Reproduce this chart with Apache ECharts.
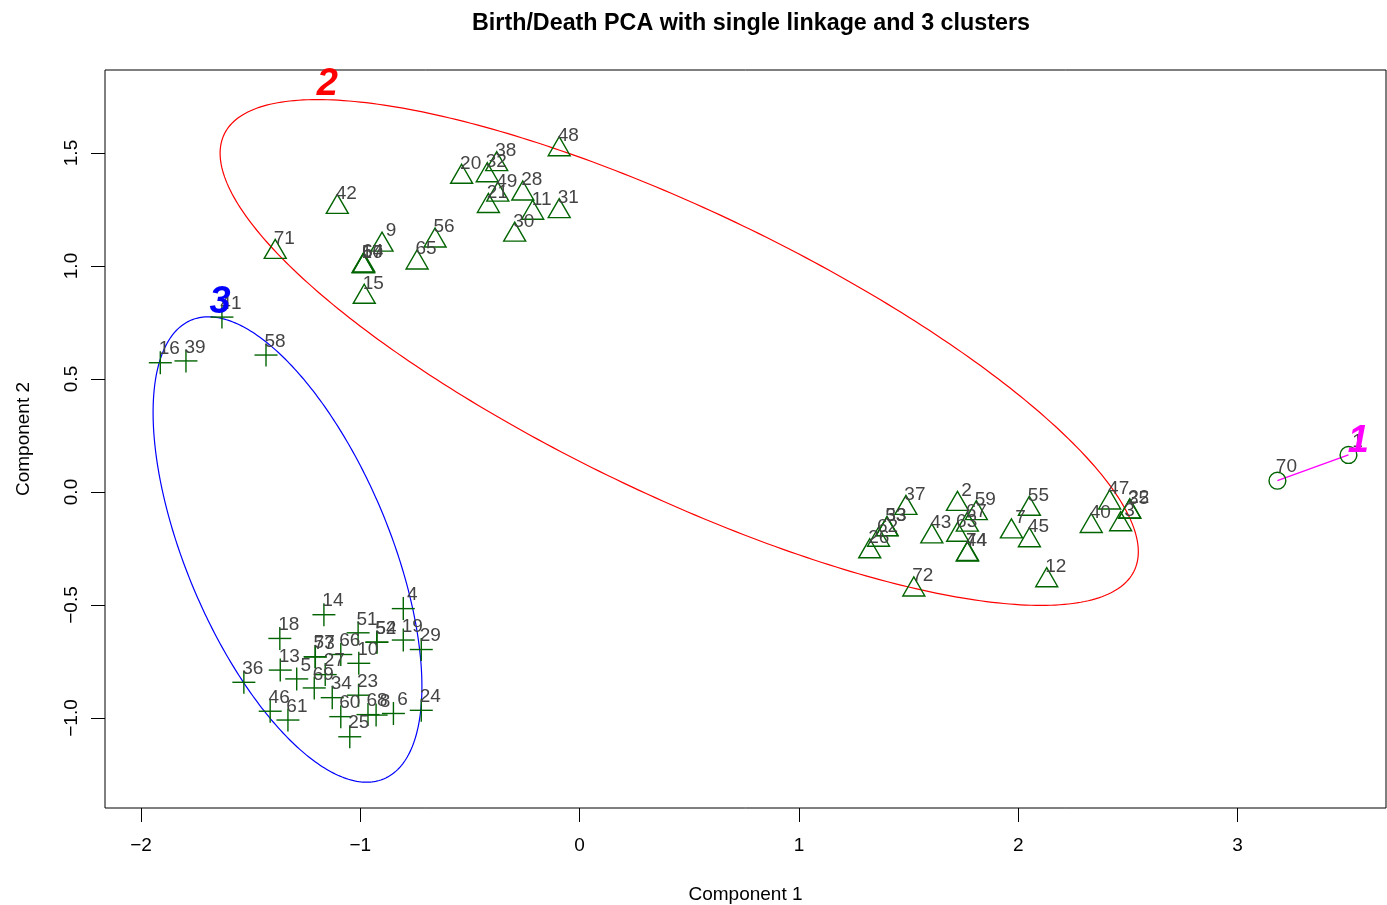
<!DOCTYPE html>
<html>
<head>
<meta charset="utf-8">
<title>Birth/Death PCA</title>
<script src="https://cdn.jsdelivr.net/npm/echarts@6/dist/echarts.min.js"></script>
<style>
  html, body { margin: 0; padding: 0; background: #fff; }
  #chart { width: 1387px; height: 905px; }
</style>
</head>
<body>
<div id="chart"></div>
<script>
// Principal component scores, grouped by cluster (single linkage, k = 3)
const c1Labels = ['70', '1'];
const c1X = [3.182, 3.506];
const c1Y = [0.050, 0.164];

const c2Labels = ['48', '20', '32', '38', '49', '21', '28', '11', '31', '30', '42', '71', '9', '56', '65',
  '50', '64', '17', '15', '37', '2', '59', '67', '63', '44', '74', '43', '53', '33', '62', '26', '72',
  '7', '55', '45', '12', '47', '40', '3', '35', '22'];
const c2X = [-0.093, -0.538, -0.421, -0.378, -0.373, -0.416, -0.259, -0.214, -0.093, -0.296, -1.105, -1.388, -0.901, -0.659, -0.741,
  -0.986, -0.984, -0.987, -0.982, 1.488, 1.723, 1.809, 1.768, 1.724, 1.768, 1.769, 1.606, 1.401, 1.402, 1.363, 1.323, 1.524,
  1.969, 2.051, 2.051, 2.130, 2.417, 2.333, 2.467, 2.508, 2.509];
const c2Y = [1.516, 1.394, 1.401, 1.450, 1.315, 1.265, 1.320, 1.235, 1.242, 1.138, 1.261, 1.062, 1.094, 1.112, 1.015,
  0.998, 1.002, 1.000, 0.863, -0.071, -0.053, -0.094, -0.145, -0.190, -0.277, -0.275, -0.197, -0.166, -0.165, -0.212, -0.263, -0.432,
  -0.175, -0.075, -0.214, -0.391, -0.047, -0.151, -0.143, -0.088, -0.087];

const c3Labels = ['41', '16', '39', '58', '14', '4', '18', '51', '52', '54', '19', '29', '57', '73', '66', '10',
  '13', '5', '27', '69', '36', '34', '23', '46', '61', '60', '68', '8', '6', '24', '25'];
const c3X = [-1.631, -1.912, -1.795, -1.430, -1.166, -0.804, -1.367, -1.010, -0.925, -0.924, -0.804, -0.722, -1.206, -1.205, -1.089, -1.007,
  -1.365, -1.290, -1.160, -1.210, -1.531, -1.128, -1.008, -1.411, -1.330, -1.089, -0.965, -0.928, -0.849, -0.722, -1.048];
const c3Y = [0.774, 0.572, 0.580, 0.606, -0.543, -0.516, -0.648, -0.623, -0.665, -0.664, -0.655, -0.697, -0.729, -0.730, -0.719, -0.758,
  -0.788, -0.827, -0.808, -0.867, -0.842, -0.910, -0.899, -0.970, -1.009, -0.994, -0.985, -0.987, -0.980, -0.966, -1.083];

// Spanning ellipses of clusters 2 and 3: centre, half-extents along each axis, correlation
const ellipseCluster = ['2', '3'];
const ellipseCx = [0.4542, -1.3320];
const ellipseCy = [0.6173, -0.2544];
const ellipseSx = [2.0935, 0.6129];
const ellipseSy = [1.1190, 1.0296];
const ellipseRho = [-0.7877, -0.5886];

// Cluster numbers and where they are written
const clusterNames = ['1', '2', '3'];
const clusterLabelX = [3.551, -1.150, -1.640];
const clusterLabelY = [0.2235, 1.801, 0.8385];

const xTicks = [-2, -1, 0, 1, 2, 3];
const yTicks = [-1.0, -0.5, 0.0, 0.5, 1.0, 1.5];

const X_MIN = -2.1642, X_MAX = 3.6771;
const Y_MIN = -1.3982, Y_MAX = 1.8673;

const FONT = '"Liberation Sans", Arial, Helvetica, sans-serif';
const POINT_COLOR = '#006400';
const TEXT_COLOR = '#444444';
const CLUSTER_COLORS = { '1': '#FF00FF', '2': '#FF0000', '3': '#0000FF' };

const minus = s => String(s).replace('-', '\u2212');

function markerSeries(xs, ys, kind) {
  return {
    type: 'custom',
    z: 3,
    clip: false,
    data: xs.map((x, i) => [x, ys[i]]),
    encode: { x: 0, y: 1 },
    renderItem(params, api) {
      const p = api.coord([api.value(0), api.value(1)]);
      const st = { fill: 'none', stroke: POINT_COLOR, lineWidth: 1.4 };
      if (kind === 'triangle') {
        const r = 12.7;
        return { type: 'polygon', shape: { points: [[p[0], p[1] - r], [p[0] + 0.866 * r, p[1] + 0.5 * r], [p[0] - 0.866 * r, p[1] + 0.5 * r]] }, style: st };
      }
      if (kind === 'plus') {
        const a = 11.5;
        return {
          type: 'group', children: [
            { type: 'line', shape: { x1: p[0] - a, y1: p[1], x2: p[0] + a, y2: p[1] }, style: st },
            { type: 'line', shape: { x1: p[0], y1: p[1] - a, x2: p[0], y2: p[1] + a }, style: st }
          ]
        };
      }
      return { type: 'circle', shape: { cx: p[0], cy: p[1], r: 8.4 }, style: st };
    }
  };
}

function labelSeries(labels, xs, ys) {
  return {
    type: 'custom',
    z: 4,
    clip: false,
    data: xs.map((x, i) => [x, ys[i]]),
    encode: { x: 0, y: 1 },
    renderItem(params, api) {
      const p = api.coord([api.value(0), api.value(1)]);
      return {
        type: 'text',
        x: p[0] + 9, y: p[1] - 13.5,
        style: { text: labels[params.dataIndex], fill: TEXT_COLOR, font: '19px ' + FONT, align: 'center', verticalAlign: 'middle' }
      };
    }
  };
}

const ellipseSeries = {
  type: 'custom',
  z: 2,
  clip: false,
  data: ellipseCx.map((x, i) => [x, ellipseCy[i]]),
  encode: { x: 0, y: 1 },
  renderItem(params, api) {
    const i = params.dataIndex;
    const d = Math.acos(ellipseRho[i]);
    const pts = [];
    const N = 360;
    for (let k = 0; k <= N; k++) {
      const t = 2 * Math.PI * k / N;
      pts.push(api.coord([ellipseCx[i] + ellipseSx[i] * Math.cos(t), ellipseCy[i] + ellipseSy[i] * Math.cos(t + d)]));
    }
    return { type: 'polyline', shape: { points: pts }, style: { fill: 'none', stroke: CLUSTER_COLORS[ellipseCluster[i]], lineWidth: 1.2 } };
  }
};

// Cluster 1 has two members: its spanning ellipse collapses to the segment joining them
const segmentSeries = {
  type: 'custom',
  z: 2,
  clip: false,
  data: [[c1X[0], c1Y[0]]],
  encode: { x: 0, y: 1 },
  renderItem(params, api) {
    const a = api.coord([c1X[0], c1Y[0]]);
    const b = api.coord([c1X[1], c1Y[1]]);
    return { type: 'line', shape: { x1: a[0], y1: a[1], x2: b[0], y2: b[1] }, style: { stroke: CLUSTER_COLORS['1'], lineWidth: 1.4 } };
  }
};

const clusterLabelSeries = {
  type: 'custom',
  z: 5,
  clip: false,
  data: clusterLabelX.map((x, i) => [x, clusterLabelY[i]]),
  encode: { x: 0, y: 1 },
  renderItem(params, api) {
    const p = api.coord([api.value(0), api.value(1)]);
    const name = clusterNames[params.dataIndex];
    return {
      type: 'text', x: p[0], y: p[1],
      style: { text: name, fill: CLUSTER_COLORS[name], font: 'italic bold 38px ' + FONT, align: 'center', verticalAlign: 'middle' }
    };
  }
};

const chart = echarts.init(document.getElementById('chart'), null, { renderer: 'canvas' });
chart.setOption({
  animation: false,
  backgroundColor: '#ffffff',
  textStyle: { fontFamily: FONT },
  graphic: [{
    type: 'text', x: 751, y: 24, z: 10,
    style: { text: 'Birth/Death PCA with single linkage and 3 clusters', font: 'bold 23.3px ' + FONT, fill: '#000', align: 'center', verticalAlign: 'middle' }
  }],
  grid: {
    left: 105, right: 1, top: 70, bottom: 97,
    outerBoundsMode: 'none', containLabel: false,
    show: true, borderColor: '#000', borderWidth: 1, backgroundColor: 'transparent'
  },
  xAxis: {
    type: 'value', min: X_MIN, max: X_MAX,
    axisLine: { show: false, onZero: false },
    splitLine: { show: false },
    axisTick: { show: true, customValues: xTicks, length: 14, lineStyle: { color: '#000', width: 1 } },
    axisLabel: { customValues: xTicks, formatter: v => minus(v), margin: 28, fontSize: 19, color: '#000', fontFamily: FONT },
    name: 'Component 1', nameLocation: 'middle', nameGap: 77,
    nameTextStyle: { fontSize: 19, color: '#000', fontFamily: FONT }
  },
  yAxis: {
    type: 'value', min: Y_MIN, max: Y_MAX,
    axisLine: { show: false, onZero: false },
    splitLine: { show: false },
    axisTick: { show: true, customValues: yTicks, length: 14, lineStyle: { color: '#000', width: 1 } },
    axisLabel: { customValues: yTicks, rotate: 90, formatter: v => minus(Number(v).toFixed(1)), margin: 24, fontSize: 19, color: '#000', fontFamily: FONT },
    name: 'Component 2', nameLocation: 'middle', nameGap: 72,
    nameTextStyle: { fontSize: 19, color: '#000', fontFamily: FONT }
  },
  series: [
    ellipseSeries,
    segmentSeries,
    markerSeries(c1X, c1Y, 'circle'),
    markerSeries(c2X, c2Y, 'triangle'),
    markerSeries(c3X, c3Y, 'plus'),
    labelSeries(c1Labels, c1X, c1Y),
    labelSeries(c2Labels, c2X, c2Y),
    labelSeries(c3Labels, c3X, c3Y),
    clusterLabelSeries
  ]
});
</script>
</body>
</html>
